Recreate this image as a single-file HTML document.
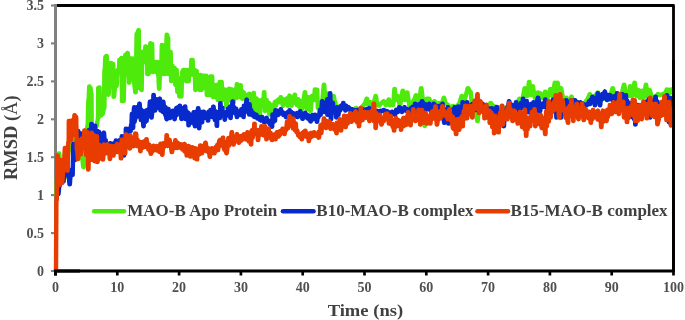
<!DOCTYPE html>
<html><head><meta charset="utf-8"><style>
html,body{margin:0;padding:0;background:#fff;}
svg{display:block;will-change:transform;}
.tk{font-family:"Liberation Serif",serif;font-size:14px;font-weight:bold;fill:#505050;}
.tt{font-family:"Liberation Serif",serif;font-size:17.4px;font-weight:bold;fill:#404040;}
.lg{font-family:"Liberation Serif",serif;font-size:17px;font-weight:bold;fill:#404040;}
</style></head><body>
<svg width="685" height="320" viewBox="0 0 685 320">
<rect width="685" height="320" fill="#fff"/>
<line x1="51" y1="271.0" x2="55.5" y2="271.0" stroke="#808080" stroke-width="2.1"/><text x="43.9" y="275.6" text-anchor="end" class="tk">0</text><line x1="51" y1="233.1" x2="55.5" y2="233.1" stroke="#808080" stroke-width="2.1"/><text x="43.9" y="237.7" text-anchor="end" class="tk">0.5</text><line x1="51" y1="195.1" x2="55.5" y2="195.1" stroke="#808080" stroke-width="2.1"/><text x="43.9" y="199.7" text-anchor="end" class="tk">1</text><line x1="51" y1="157.2" x2="55.5" y2="157.2" stroke="#808080" stroke-width="2.1"/><text x="43.9" y="161.8" text-anchor="end" class="tk">1.5</text><line x1="51" y1="119.3" x2="55.5" y2="119.3" stroke="#808080" stroke-width="2.1"/><text x="43.9" y="123.9" text-anchor="end" class="tk">2</text><line x1="51" y1="81.4" x2="55.5" y2="81.4" stroke="#808080" stroke-width="2.1"/><text x="43.9" y="86.0" text-anchor="end" class="tk">2.5</text><line x1="51" y1="43.4" x2="55.5" y2="43.4" stroke="#808080" stroke-width="2.1"/><text x="43.9" y="48.0" text-anchor="end" class="tk">3</text><line x1="51" y1="5.5" x2="55.5" y2="5.5" stroke="#808080" stroke-width="2.1"/><text x="43.9" y="10.1" text-anchor="end" class="tk">3.5</text><line x1="55.5" y1="271" x2="55.5" y2="275.5" stroke="#000" stroke-width="2.7"/><text x="55.5" y="291.9" text-anchor="middle" class="tk">0</text><line x1="117.3" y1="271" x2="117.3" y2="275.5" stroke="#000" stroke-width="2.7"/><text x="117.3" y="291.9" text-anchor="middle" class="tk">10</text><line x1="179.1" y1="271" x2="179.1" y2="275.5" stroke="#000" stroke-width="2.7"/><text x="179.1" y="291.9" text-anchor="middle" class="tk">20</text><line x1="240.9" y1="271" x2="240.9" y2="275.5" stroke="#000" stroke-width="2.7"/><text x="240.9" y="291.9" text-anchor="middle" class="tk">30</text><line x1="302.7" y1="271" x2="302.7" y2="275.5" stroke="#000" stroke-width="2.7"/><text x="302.7" y="291.9" text-anchor="middle" class="tk">40</text><line x1="364.5" y1="271" x2="364.5" y2="275.5" stroke="#000" stroke-width="2.7"/><text x="364.5" y="291.9" text-anchor="middle" class="tk">50</text><line x1="426.3" y1="271" x2="426.3" y2="275.5" stroke="#000" stroke-width="2.7"/><text x="426.3" y="291.9" text-anchor="middle" class="tk">60</text><line x1="488.1" y1="271" x2="488.1" y2="275.5" stroke="#000" stroke-width="2.7"/><text x="488.1" y="291.9" text-anchor="middle" class="tk">70</text><line x1="549.9" y1="271" x2="549.9" y2="275.5" stroke="#000" stroke-width="2.7"/><text x="549.9" y="291.9" text-anchor="middle" class="tk">80</text><line x1="611.7" y1="271" x2="611.7" y2="275.5" stroke="#000" stroke-width="2.7"/><text x="611.7" y="291.9" text-anchor="middle" class="tk">90</text><line x1="673.5" y1="271" x2="673.5" y2="275.5" stroke="#000" stroke-width="2.7"/><text x="673.5" y="291.9" text-anchor="middle" class="tk">100</text>
<path d="M55.5 5.5 H673.5 V271 H54" fill="none" stroke="#000" stroke-width="2.8" stroke-linejoin="round"/>
<line x1="55.5" y1="4" x2="55.5" y2="270" stroke="#808080" stroke-width="3"/>

<path d="M56.5 195.0 L57.3 170.0 L57.7 170.0 L58.8 153.5 L59.2 153.5 L60.3 165.0 L60.7 165.0 L61.8 170.0 L62.2 170.0 L63.8 165.0 L64.2 165.0 L65.3 177.0 L65.7 177.0 L66.8 160.0 L67.2 160.0 L68.8 150.0 L69.2 150.0 L70.8 145.0 L71.2 145.0 L72.6 138.5 L73.0 138.5 L73.8 150.0 L74.2 150.0 L75.3 160.0 L75.7 160.0 L76.3 155.0 L76.7 155.0 L77.8 148.0 L78.2 148.0 L79.8 145.0 L80.2 145.0 L81.8 158.0 L82.2 158.0 L83.3 167.0 L83.7 167.0 L84.8 150.0 L85.2 150.0 L86.3 140.0 L86.7 140.0 L87.3 126.0 L87.7 126.0 L88.3 100.0 L88.7 100.0 L89.2 86.5 L89.6 86.5 L90.2 88.0 L90.6 88.0 L91.1 94.0 L91.3 124.0 L91.5 94.0 L91.7 124.0 L92.3 126.5 L92.7 126.5 L94.3 127.5 L94.7 127.5 L96.3 126.0 L96.7 126.0 L98.0 118.0 L98.2 88.0 L98.4 118.0 L98.6 88.0 L99.2 87.5 L99.6 95.0 L99.6 87.5 L99.8 111.0 L100.0 95.0 L100.2 111.0 L100.8 115.5 L101.2 115.5 L102.3 114.0 L102.7 114.0 L104.0 108.0 L104.4 70.0 L104.4 108.0 L104.8 70.0 L105.3 57.0 L105.7 57.0 L106.3 56.0 L106.7 56.0 L107.3 64.0 L107.7 64.0 L108.3 94.7 L108.7 94.7 L109.8 75.0 L110.2 75.0 L111.0 63.0 L111.4 63.0 L112.8 64.0 L113.2 64.0 L113.6 96.8 L114.0 96.8 L115.3 84.0 L115.7 84.0 L116.3 86.0 L116.7 86.0 L117.6 70.0 L118.0 70.0 L118.6 70.0 L119.0 70.0 L119.3 60.0 L119.7 60.0 L121.3 58.0 L121.7 58.0 L122.0 101.0 L122.4 101.0 L123.3 101.0 L123.7 101.0 L124.3 76.0 L124.7 76.0 L125.3 55.0 L125.7 55.0 L127.3 53.0 L127.7 53.0 L128.3 60.0 L128.7 60.0 L129.0 82.6 L129.4 82.6 L130.1 58.5 L130.5 58.5 L132.3 58.5 L132.7 58.5 L133.2 78.0 L133.6 78.0 L135.3 92.2 L135.7 92.2 L136.6 34.0 L137.0 34.0 L138.4 30.2 L138.8 30.2 L139.1 88.0 L139.5 88.0 L140.3 60.0 L140.7 60.0 L141.3 90.0 L141.7 90.0 L142.3 52.0 L142.7 52.0 L143.1 51.5 L143.5 51.5 L143.6 62.0 L144.0 62.0 L144.3 62.0 L144.7 62.0 L145.3 46.5 L145.7 46.5 L146.6 47.0 L147.0 47.0 L147.3 74.0 L147.7 74.0 L148.3 74.0 L148.7 74.0 L149.3 56.0 L149.7 56.0 L150.3 43.3 L150.7 43.3 L151.8 44.0 L152.2 44.0 L152.6 72.0 L153.0 72.0 L153.8 62.0 L154.2 62.0 L155.3 62.0 L155.7 62.0 L156.3 72.0 L156.7 72.0 L157.3 62.0 L157.7 62.0 L158.0 75.0 L158.4 75.0 L159.0 88.7 L159.4 88.7 L160.0 70.0 L160.4 70.0 L160.8 74.0 L161.2 74.0 L161.8 45.0 L162.2 45.0 L162.8 74.0 L163.2 74.0 L163.8 50.0 L164.2 50.0 L164.8 74.0 L165.2 74.0 L166.7 34.6 L167.1 34.6 L167.8 38.0 L168.2 38.0 L168.4 74.0 L168.8 74.0 L169.3 52.0 L169.7 52.0 L170.3 52.0 L170.7 52.0 L171.1 81.0 L171.5 81.0 L172.3 66.0 L172.7 66.0 L173.3 80.0 L173.7 80.0 L174.3 68.0 L174.7 68.0 L175.3 85.0 L175.7 85.0 L176.3 70.0 L176.7 70.0 L177.3 92.0 L177.7 92.0 L178.3 78.0 L178.7 78.0 L179.3 96.5 L179.7 96.5 L180.3 83.0 L180.7 83.0 L181.1 96.5 L181.5 96.5 L182.1 72.0 L182.5 72.0 L183.3 70.0 L183.7 70.0 L184.3 80.0 L184.7 80.0 L185.3 70.0 L185.7 70.0 L186.3 81.4 L186.7 81.4 L187.3 70.0 L187.7 70.0 L188.3 81.4 L188.7 81.4 L189.3 72.0 L189.7 72.0 L190.3 75.0 L190.7 75.0 L191.3 60.0 L191.7 60.0 L192.3 60.0 L192.7 60.0 L193.3 75.0 L193.7 75.0 L194.3 70.0 L194.7 70.0 L195.3 90.0 L195.7 90.0 L196.3 71.0 L196.7 71.0 L197.3 85.0 L197.7 85.0 L198.3 75.0 L198.7 75.0 L199.3 90.0 L199.7 90.0 L200.3 75.0 L200.7 75.0 L201.3 90.0 L201.7 90.0 L202.3 77.0 L202.7 77.0 L203.3 75.6 L203.7 75.6 L204.8 88.0 L205.2 88.0 L205.8 75.6 L206.2 75.6 L206.8 95.0 L207.2 95.0 L207.8 83.5 L208.2 83.5 L209.3 95.0 L209.7 95.0 L210.3 76.4 L210.7 76.4 L211.8 76.4 L212.2 76.4 L212.8 97.0 L213.2 97.0 L213.8 85.0 L214.2 85.0 L215.3 97.0 L215.7 97.0 L216.3 85.0 L216.7 85.0 L217.8 100.0 L218.2 100.0 L219.6 81.9 L220.0 81.9 L221.3 81.9 L221.7 81.9 L222.3 100.0 L222.7 100.0 L223.8 89.7 L224.2 89.7 L224.6 89.5 L225.0 89.5 L225.0 93.9 L226.1 100.9 L226.3 107.5 L226.7 107.5 L226.9 94.9 L227.7 101.1 L228.8 93.4 L229.0 88.6 L229.4 88.6 L229.4 100.4 L230.3 93.3 L230.3 100.0 L230.7 100.0 L230.9 98.2 L231.6 89.5 L231.9 92.5 L232.0 89.5 L233.1 97.3 L233.3 102.2 L233.7 102.2 L233.7 90.7 L234.7 94.9 L235.1 95.0 L235.5 88.9 L235.5 95.0 L236.3 98.1 L236.8 84.2 L237.1 88.8 L237.2 84.2 L238.0 93.6 L238.7 87.6 L238.8 97.0 L239.2 97.0 L239.6 94.7 L240.3 90.3 L240.3 85.1 L240.7 85.1 L241.2 94.0 L241.9 90.7 L242.1 98.7 L242.5 98.7 L243.0 95.4 L243.8 92.4 L244.7 98.2 L244.8 97.1 L245.1 98.2 L245.7 96.0 L246.7 97.1 L247.3 95.0 L247.6 95.6 L247.7 95.0 L248.7 98.0 L249.1 93.8 L249.5 93.8 L249.7 95.2 L250.4 97.7 L251.3 95.2 L251.3 100.0 L251.7 100.0 L252.2 103.2 L253.2 99.7 L253.5 93.0 L253.9 93.0 L254.1 107.8 L255.1 100.3 L255.3 114.5 L255.7 114.5 L256.0 107.9 L256.6 98.4 L257.6 108.5 L257.8 100.0 L258.2 100.0 L258.6 104.2 L259.3 109.3 L259.6 114.5 L260.0 114.5 L260.5 102.4 L261.4 105.8 L261.8 100.0 L262.1 99.6 L262.2 100.0 L263.3 104.9 L264.0 92.1 L264.2 97.8 L264.4 92.1 L264.8 111.0 L265.1 103.6 L265.2 111.0 L265.7 99.6 L266.3 100.0 L266.7 100.0 L266.8 106.0 L267.8 105.5 L268.4 102.6 L268.7 109.7 L268.8 102.6 L269.3 114.5 L269.6 103.6 L269.7 114.5 L270.7 110.2 L270.8 105.0 L271.2 105.0 L271.4 106.3 L272.3 111.7 L273.1 106.4 L273.6 105.7 L274.0 105.7 L274.1 104.6 L275.0 101.7 L275.4 105.7 L275.7 104.1 L275.8 105.7 L276.7 101.3 L277.7 102.6 L277.8 100.0 L278.2 100.0 L278.8 99.3 L279.9 102.1 L280.6 99.2 L280.6 97.3 L281.0 97.3 L281.2 102.6 L282.0 99.4 L282.8 105.7 L282.9 103.3 L283.2 105.7 L283.6 99.4 L284.5 104.1 L285.3 101.6 L285.9 99.1 L286.2 103.9 L286.3 99.1 L287.1 98.4 L287.8 105.7 L287.9 102.8 L288.2 105.7 L288.6 98.5 L289.4 95.6 L289.8 102.7 L289.8 95.6 L290.5 99.4 L291.3 105.7 L291.6 103.5 L291.7 105.7 L292.2 97.6 L293.2 103.0 L294.2 98.7 L294.6 94.7 L295.0 94.7 L295.2 102.3 L296.3 98.7 L296.8 105.0 L297.2 105.0 L297.2 102.3 L298.2 99.2 L299.1 106.7 L299.9 100.8 L300.3 100.8 L301.8 109.0 L302.2 109.0 L304.8 92.1 L305.2 92.1 L306.8 109.0 L307.2 109.0 L308.6 97.3 L309.0 97.3 L310.3 111.0 L310.7 111.0 L312.1 95.6 L312.5 95.6 L313.8 100.0 L314.2 100.0 L314.8 89.5 L315.2 89.5 L316.8 89.8 L317.2 89.8 L317.8 108.0 L318.2 108.0 L319.4 102.1 L319.8 102.1 L321.3 108.0 L321.7 108.0 L323.8 84.6 L324.2 84.6 L325.3 100.0 L325.7 100.0 L326.4 93.3 L326.8 93.3 L327.8 108.0 L328.2 108.0 L329.1 101.8 L329.5 101.8 L330.8 104.0 L331.2 104.0 L333.4 96.0 L333.8 96.0 L334.8 101.7 L335.2 101.7 L336.1 108.5 L336.5 108.5 L339.8 106.0 L340.2 106.0 L343.1 104.0 L343.5 104.0 L345.8 108.0 L346.2 108.0 L348.3 107.5 L348.7 107.5 L350.8 110.0 L351.2 110.0 L353.6 111.0 L354.0 111.0 L355.8 108.0 L356.2 108.0 L358.8 112.0 L359.2 112.0 L361.8 107.0 L362.2 107.0 L364.3 104.0 L364.7 104.0 L366.7 98.6 L367.1 98.6 L368.3 105.2 L368.7 105.2 L370.2 102.1 L370.6 102.1 L372.8 105.2 L373.2 105.2 L375.5 96.0 L375.9 96.0 L377.3 105.2 L377.7 105.2 L379.0 105.6 L379.4 105.6 L381.3 103.0 L381.7 103.0 L383.4 101.2 L383.8 101.2 L385.8 105.2 L386.2 105.2 L388.6 99.5 L389.0 99.5 L389.8 105.2 L390.2 105.2 L391.2 103.0 L391.6 103.0 L392.8 105.2 L393.2 105.2 L394.4 88.9 L394.8 88.9 L395.8 100.0 L396.2 100.0 L397.4 96.0 L397.8 96.0 L399.8 105.2 L400.2 105.2 L402.6 90.7 L403.0 90.7 L404.8 100.0 L405.2 100.0 L407.0 92.4 L407.4 92.4 L409.3 105.2 L409.7 105.2 L411.4 103.8 L411.8 103.8 L413.8 100.0 L414.2 100.0 L415.8 95.1 L416.2 95.1 L418.3 105.2 L418.7 105.2 L421.0 88.1 L421.4 88.1 L422.8 100.0 L423.2 100.0 L424.5 126.0 L424.9 126.0 L425.4 99.5 L425.8 99.5 L426.8 98.6 L427.2 98.6 L428.9 98.6 L429.3 98.6 L430.8 104.0 L431.2 104.0 L434.4 101.2 L434.8 101.2 L436.8 105.0 L437.2 105.0 L438.8 103.0 L439.2 103.0 L440.8 106.0 L441.2 106.0 L443.7 97.7 L444.1 97.7 L445.8 104.0 L446.2 104.0 L447.6 104.7 L448.0 104.7 L449.8 108.0 L450.2 108.0 L452.8 106.0 L453.2 106.0 L454.6 121.0 L455.0 121.0 L455.8 107.0 L456.2 107.0 L458.8 104.0 L459.2 104.0 L461.6 96.0 L462.0 96.0 L463.8 102.0 L464.2 102.0 L467.7 88.1 L468.1 88.1 L470.3 92.0 L470.7 92.0 L471.8 104.0 L472.2 104.0 L473.0 103.8 L473.4 103.8 L474.8 110.0 L475.2 110.0 L477.3 121.0 L477.7 121.0 L478.8 108.0 L479.2 108.0 L481.8 106.0 L482.2 106.0 L485.8 108.0 L486.2 108.0 L490.5 103.0 L490.9 103.0 L493.1 106.0 L493.5 106.0 L496.8 108.0 L497.2 108.0 L500.8 107.0 L501.2 107.0 L504.8 108.0 L505.2 108.0 L508.8 106.0 L509.2 106.0 L512.8 106.0 L513.2 106.0 L515.8 104.0 L516.2 104.0 L519.4 98.6 L519.8 98.6 L521.3 104.0 L521.7 104.0 L524.6 88.1 L525.0 88.1 L526.8 96.0 L527.2 96.0 L529.0 81.9 L529.4 81.9 L530.8 95.0 L531.2 95.0 L532.5 86.3 L532.9 86.3 L534.8 98.0 L535.2 98.0 L537.8 92.4 L538.2 92.4 L539.8 93.3 L540.2 93.3 L541.8 98.0 L542.2 98.0 L545.1 91.6 L545.5 91.6 L547.3 98.0 L547.7 98.0 L550.3 88.9 L550.7 88.9 L552.3 96.0 L552.7 96.0 L554.7 82.8 L555.1 82.8 L555.8 92.0 L556.2 92.0 L557.3 82.8 L557.7 82.8 L559.3 95.0 L559.7 95.0 L560.8 88.1 L561.2 88.1 L563.3 100.0 L563.7 100.0 L566.1 97.7 L566.5 97.7 L568.8 103.0 L569.2 103.0 L571.3 96.8 L571.7 96.8 L573.8 103.0 L574.2 103.0 L576.6 102.0 L577.0 102.0 L579.8 104.0 L580.2 104.0 L583.8 104.0 L584.2 104.0 L586.8 100.0 L587.2 100.0 L589.7 94.2 L590.1 94.2 L591.8 102.0 L592.2 102.0 L594.8 96.0 L595.2 96.0 L597.6 92.4 L598.0 92.4 L599.8 100.0 L600.2 100.0 L603.8 98.0 L604.2 98.0 L607.8 100.0 L608.2 100.0 L609.8 96.0 L610.2 96.0 L612.5 88.1 L612.9 88.1 L614.8 96.0 L615.2 96.0 L616.9 94.0 L617.3 94.0 L619.8 99.0 L620.2 99.0 L621.8 92.0 L622.2 92.0 L623.9 84.6 L624.3 84.6 L625.8 94.0 L626.2 94.0 L627.4 92.0 L627.8 92.0 L628.8 96.0 L629.2 96.0 L630.0 86.3 L630.4 86.3 L631.8 96.0 L632.2 96.0 L634.4 82.8 L634.8 82.8 L636.3 96.0 L636.7 96.0 L637.9 90.0 L638.3 90.0 L639.8 98.0 L640.2 98.0 L641.4 90.7 L641.8 90.7 L643.3 98.0 L643.7 98.0 L645.8 84.6 L646.2 84.6 L647.3 96.0 L647.7 96.0 L649.3 90.0 L649.7 90.0 L651.8 97.0 L652.2 97.0 L655.4 96.8 L655.8 96.8 L657.8 94.0 L658.2 94.0 L659.8 95.0 L660.2 95.0 L662.8 94.0 L663.2 94.0 L664.8 93.0 L665.2 93.0 L666.8 89.4 L667.2 89.4 L668.8 94.0 L669.2 94.0 L670.8 89.4 L671.2 89.4 L672.5 92.0" fill="none" stroke="#4eea0c" stroke-width="4.4" stroke-linejoin="round" stroke-linecap="round"/>
<path d="M58.5 194.0 L59.3 186.0 L59.7 186.0 L60.8 175.0 L61.2 175.0 L62.3 170.7 L62.7 170.7 L63.3 181.5 L63.7 181.5 L64.3 160.0 L64.7 160.0 L65.8 175.0 L66.2 175.0 L67.3 165.0 L67.7 165.0 L69.5 184.3 L69.9 184.3 L70.8 170.0 L71.2 170.0 L72.3 175.0 L72.7 175.0 L73.3 144.0 L73.7 144.0 L74.3 160.0 L74.7 160.0 L75.8 150.0 L76.2 150.0 L77.9 131.0 L78.3 131.0 L79.3 140.0 L79.7 140.0 L80.8 133.4 L81.2 133.4 L82.8 140.0 L83.2 140.0 L84.8 135.0 L85.2 135.0 L86.8 138.0 L87.2 138.0 L88.8 130.0 L89.2 130.0 L90.0 129.7 L91.1 130.9 L91.3 124.0 L91.7 124.0 L91.8 126.3 L92.8 130.0 L92.8 127.9 L93.2 130.0 L93.6 126.0 L94.6 129.5 L94.8 125.8 L95.2 125.8 L95.3 129.5 L96.2 134.9 L97.2 131.0 L97.3 131.6 L97.6 131.0 L98.2 135.8 L98.3 140.0 L98.7 140.0 L99.0 131.8 L99.7 138.8 L100.1 134.0 L100.5 135.1 L100.5 134.0 L101.3 143.0 L101.6 139.8 L101.7 143.0 L102.5 135.7 L103.2 143.8 L103.6 132.8 L103.9 139.0 L104.0 132.8 L105.0 145.0 L105.3 143.0 L105.7 143.0 L105.8 140.3 L106.2 152.0 L106.6 152.0 L106.8 145.2 L107.8 145.0 L107.9 144.3 L108.2 145.0 L109.0 149.2 L110.0 143.3 L110.2 145.7 L110.4 143.3 L110.9 147.0 L111.3 149.0 L111.7 149.0 L111.9 144.6 L112.8 146.4 L113.2 145.0 L113.6 145.0 L113.9 143.1 L115.0 145.4 L115.8 140.4 L116.1 142.6 L116.2 140.4 L117.0 144.1 L117.8 146.0 L118.1 141.2 L118.2 146.0 L119.0 143.5 L119.8 140.0 L120.5 145.3 L121.3 144.2 L121.7 136.3 L122.1 136.3 L122.1 147.8 L123.1 137.2 L123.8 155.5 L124.0 146.2 L124.2 155.5 L125.0 136.2 L125.7 146.9 L125.8 128.7 L126.2 128.7 L126.9 137.9 L127.5 138.6 L128.3 135.0 L128.6 128.8 L128.7 135.0 L129.3 131.3 L129.9 128.3 L130.7 131.0 L131.1 124.6 L131.5 124.6 L131.8 114.0 L132.7 121.7 L132.8 128.0 L133.2 128.0 L133.5 113.2 L134.1 107.1 L134.5 107.1 L134.6 121.9 L135.3 118.0 L135.6 112.5 L135.7 118.0 L136.5 116.3 L136.7 108.0 L137.1 108.0 L137.4 107.0 L137.8 115.0 L138.2 115.0 L138.6 116.3 L139.3 103.6 L139.6 107.3 L139.7 103.6 L140.4 115.8 L140.8 120.0 L141.1 109.4 L141.2 120.0 L142.0 110.6 L142.1 119.5 L142.4 110.6 L142.8 116.2 L143.3 126.2 L143.5 122.8 L143.7 126.2 L144.3 116.3 L144.8 115.0 L145.2 115.0 L145.3 122.0 L146.1 110.5 L146.3 121.0 L146.7 121.0 L147.0 115.2 L147.8 110.0 L148.0 109.4 L148.2 110.0 L149.1 113.5 L149.8 101.8 L150.1 106.5 L150.2 101.8 L150.8 110.0 L151.3 117.5 L151.6 101.2 L151.7 117.5 L152.5 109.1 L153.2 103.2 L153.4 95.0 L153.8 95.0 L154.0 110.6 L154.7 103.7 L154.8 110.5 L155.2 110.5 L155.5 105.6 L156.0 99.5 L156.4 99.3 L156.4 99.5 L157.3 107.7 L157.7 103.6 L158.0 101.7 L158.1 103.6 L158.7 107.2 L159.5 98.6 L159.7 102.5 L159.9 98.6 L160.4 110.5 L160.8 110.5 L160.8 105.4 L161.8 103.0 L162.0 102.1 L162.2 103.0 L162.9 112.1 L163.0 101.8 L163.4 101.8 L163.8 105.6 L163.8 107.8 L164.2 105.6 L164.9 112.8 L165.3 115.0 L165.6 107.1 L165.7 115.0 L166.5 119.2 L166.5 115.7 L166.9 119.2 L167.2 110.7 L167.9 115.5 L168.2 109.0 L168.6 109.0 L168.6 111.8 L169.4 116.4 L169.8 118.0 L170.1 112.3 L170.2 118.0 L171.0 115.6 L172.0 112.8 L172.6 110.6 L173.0 110.6 L173.1 115.5 L174.1 111.1 L174.4 119.2 L174.8 119.2 L175.0 114.9 L175.7 110.4 L176.3 108.0 L176.6 115.4 L176.7 108.0 L177.3 110.6 L177.9 107.1 L178.1 112.2 L178.3 107.1 L179.2 110.2 L179.6 105.6 L180.0 105.6 L180.0 113.5 L180.9 108.6 L181.3 119.0 L181.7 119.0 L181.9 115.8 L182.6 110.8 L183.1 108.0 L183.5 108.0 L183.6 116.2 L184.5 110.6 L184.9 106.5 L185.3 106.5 L185.4 119.1 L186.3 115.0 L186.4 110.9 L186.7 115.0 L187.1 119.5 L188.3 112.7 L188.4 125.3 L188.8 125.3 L189.3 114.3 L189.3 122.1 L189.7 114.3 L190.3 117.3 L191.1 120.3 L191.3 120.0 L191.7 120.0 L192.0 115.1 L192.7 123.0 L193.6 112.3 L193.8 116.4 L194.0 112.3 L194.8 126.2 L194.9 120.1 L195.2 126.2 L195.6 114.8 L196.3 111.8 L196.6 120.0 L196.7 111.8 L197.5 113.8 L198.0 108.2 L198.4 119.7 L198.4 108.2 L198.9 128.2 L199.2 114.4 L199.3 128.2 L200.0 119.2 L200.3 111.8 L200.7 111.8 L201.1 116.2 L202.2 122.4 L202.9 113.6 L203.6 111.8 L203.7 116.5 L204.0 111.8 L204.7 115.0 L205.7 117.2 L205.8 118.0 L206.2 118.0 L206.3 114.3 L207.5 117.9 L207.9 120.6 L208.3 120.6 L208.4 111.8 L209.0 115.7 L210.2 111.8 L210.3 110.0 L210.7 110.0 L210.9 116.7 L211.7 110.7 L212.7 117.1 L213.2 106.7 L213.6 111.2 L213.6 106.7 L214.5 117.9 L214.8 120.0 L215.2 120.0 L215.5 111.3 L216.4 119.0 L216.7 125.9 L217.1 125.9 L217.2 113.1 L218.1 117.7 L218.3 112.0 L218.7 112.0 L218.9 112.8 L220.0 118.0 L220.2 103.2 L220.6 103.2 L220.7 108.3 L221.3 113.6 L222.3 115.0 L222.4 107.8 L222.7 115.0 L223.3 114.6 L224.2 112.2 L224.6 119.7 L225.0 119.7 L225.3 115.6 L226.2 113.0 L226.3 112.0 L226.7 112.0 L227.0 115.5 L228.0 112.0 L228.1 108.4 L228.5 108.4 L229.1 115.0 L230.1 106.5 L230.3 118.0 L230.7 118.0 L231.1 111.3 L232.0 105.3 L232.5 101.4 L232.9 101.4 L232.9 112.1 L234.0 107.0 L234.8 112.0 L235.1 113.6 L235.2 112.0 L236.2 108.7 L236.8 117.1 L237.2 113.7 L237.2 117.1 L238.3 111.3 L238.8 112.0 L239.2 112.0 L239.4 114.3 L240.1 112.0 L241.0 115.1 L241.2 109.3 L241.6 109.3 L242.1 110.9 L243.1 112.9 L243.3 117.0 L243.7 117.0 L243.8 105.7 L244.7 112.6 L245.9 104.1 L246.5 99.7 L246.5 110.7 L246.9 99.7 L247.6 105.1 L247.8 110.0 L248.2 110.0 L248.6 109.8 L249.1 114.5 L249.5 114.5 L249.6 104.2 L250.4 111.7 L250.8 110.0 L251.0 111.4 L251.2 110.0 L252.1 115.2 L252.6 112.8 L253.0 112.8 L253.1 112.6 L254.0 114.5 L254.3 117.0 L254.7 117.0 L255.0 114.3 L255.7 117.0 L256.1 114.6 L256.5 114.6 L256.6 116.1 L257.3 118.5 L257.8 118.0 L258.2 118.0 L258.3 116.7 L259.1 118.0 L259.6 119.7 L259.9 117.1 L260.0 119.7 L261.0 120.5 L261.8 117.0 L262.0 118.6 L262.2 117.0 L262.9 120.1 L263.6 119.0 L264.0 122.3 L264.4 122.3 L264.4 120.4 L265.5 119.5 L266.3 118.0 L266.3 120.6 L266.7 118.0 L267.0 119.4 L267.8 121.9 L268.4 120.7 L268.8 120.7 L268.9 121.1 L269.9 124.4 L270.3 123.2 L270.6 120.6 L270.7 123.2 L271.4 123.3 L271.8 126.7 L272.2 126.7 L272.5 114.4 L273.6 121.9 L273.8 115.0 L274.2 115.0 L274.4 115.1 L275.1 120.7 L275.4 110.2 L275.8 110.2 L275.8 113.7 L276.6 114.1 L277.8 111.1 L277.8 115.0 L278.2 115.0 L278.7 112.7 L279.5 110.7 L280.3 113.6 L280.6 109.3 L281.0 109.3 L281.3 111.2 L282.1 113.7 L282.9 112.2 L283.3 115.0 L283.7 115.0 L283.8 114.8 L284.9 113.3 L285.9 117.1 L286.0 114.6 L286.3 117.1 L286.9 112.7 L287.8 112.0 L288.1 114.6 L288.2 112.0 L289.1 112.8 L289.4 110.2 L289.8 110.2 L290.2 113.9 L291.4 111.9 L291.8 116.0 L292.2 116.0 L292.4 114.0 L293.2 113.0 L293.9 115.2 L294.6 114.6 L294.7 115.4 L295.0 114.6 L295.8 116.3 L297.0 113.1 L297.3 117.0 L297.6 115.4 L297.7 117.0 L298.5 113.6 L299.6 116.0 L299.9 111.1 L300.3 111.1 L300.4 113.8 L301.2 115.9 L302.0 113.4 L302.3 118.8 L302.7 118.8 L303.0 117.0 L303.8 115.3 L304.5 117.3 L305.1 112.8 L305.2 114.5 L305.5 112.8 L306.1 117.2 L306.9 114.8 L307.7 118.5 L307.8 117.0 L308.2 117.0 L308.5 115.5 L309.5 119.9 L310.2 117.4 L310.4 121.5 L310.8 121.5 L311.1 118.9 L311.8 116.8 L312.3 115.0 L312.7 115.0 L312.9 119.4 L313.9 116.7 L314.8 118.8 L314.8 114.6 L315.2 114.6 L315.6 116.9 L316.6 119.8 L316.8 121.8 L317.2 121.8 L317.7 117.0 L318.6 117.1 L318.8 115.0 L319.2 115.0 L319.8 109.9 L320.3 114.8 L320.7 114.8 L320.8 113.2 L321.7 106.2 L322.1 101.2 L322.4 111.7 L322.5 101.2 L323.5 104.4 L323.8 112.0 L324.2 112.0 L324.7 110.1 L325.6 105.0 L325.8 106.9 L326.0 105.0 L326.6 108.6 L327.2 99.1 L327.3 114.8 L327.7 114.8 L328.0 112.8 L328.7 102.9 L329.4 108.9 L329.9 93.3 L330.3 93.3 L330.4 99.9 L330.8 119.2 L331.2 119.2 L331.5 112.5 L332.4 102.4 L332.6 103.0 L333.0 103.0 L333.1 112.3 L333.8 107.5 L334.3 112.0 L334.7 112.0 L334.9 112.1 L335.8 108.8 L336.1 117.5 L336.5 117.5 L336.9 107.3 L336.9 114.9 L337.3 107.3 L337.8 109.9 L338.5 114.9 L339.2 108.6 L339.8 110.5 L340.0 108.7 L340.2 110.5 L341.0 106.0 L342.1 107.8 L343.0 106.1 L343.1 103.0 L343.5 103.0 L343.7 108.7 L344.8 105.6 L345.3 110.5 L345.5 108.3 L345.7 110.5 L346.3 105.8 L347.2 109.2 L348.2 108.5 L348.3 107.3 L348.7 107.3 L349.2 109.5 L349.9 108.5 L350.8 110.5 L351.1 109.7 L351.2 110.5 L352.1 109.1 L353.1 110.3 L353.6 110.0 L354.0 110.0 L354.0 110.1 L354.8 110.3 L355.7 110.2 L356.8 110.3 L357.7 109.9 L357.8 110.5 L358.2 110.5 L358.7 110.1 L359.8 109.6 L360.4 110.1 L361.1 109.6 L362.1 109.9 L362.3 109.1 L362.7 109.1 L363.2 109.7 L364.3 110.1 L365.1 109.5 L365.8 110.5 L366.2 109.8 L366.2 110.5 L367.0 109.1 L367.9 109.8 L368.7 109.0 L369.3 108.2 L369.6 109.5 L369.7 108.2 L370.3 109.0 L371.1 109.6 L371.8 108.9 L372.8 110.1 L372.8 110.5 L373.2 110.5 L373.7 109.7 L374.4 110.5 L375.4 110.6 L376.3 111.4 L376.3 110.8 L376.7 110.8 L377.1 111.0 L377.9 111.7 L378.8 111.1 L379.6 111.5 L379.8 112.0 L380.2 112.0 L380.4 110.7 L381.4 111.2 L382.2 110.7 L383.1 111.2 L383.4 110.0 L383.8 110.0 L384.1 110.7 L384.9 111.8 L385.7 110.7 L386.8 112.3 L387.6 111.4 L387.8 113.0 L388.2 113.0 L388.3 112.4 L389.2 112.2 L390.0 112.5 L390.6 112.3 L391.3 113.4 L392.1 111.8 L392.3 112.7 L392.5 111.8 L393.0 113.8 L394.1 112.8 L394.8 114.8 L395.0 113.6 L395.2 114.8 L396.1 109.8 L396.9 111.8 L397.4 112.0 L397.8 112.0 L398.0 109.3 L399.0 111.1 L399.1 107.3 L399.5 107.3 L400.0 109.3 L400.9 110.8 L401.7 108.5 L401.8 112.0 L402.2 112.0 L402.6 110.9 L403.6 108.8 L404.4 107.3 L404.5 110.1 L404.8 107.3 L405.3 108.9 L406.2 110.8 L406.9 108.9 L407.8 112.0 L408.0 111.0 L408.2 112.0 L409.1 110.4 L409.8 110.7 L410.6 108.6 L410.8 112.0 L411.2 112.0 L411.3 109.9 L412.2 107.0 L413.2 109.1 L414.2 106.0 L414.8 108.2 L414.9 103.8 L415.3 103.8 L415.5 106.0 L416.3 109.4 L417.3 106.8 L418.3 112.0 L418.4 110.0 L418.7 112.0 L419.4 104.0 L420.4 108.8 L421.1 104.4 L421.9 101.2 L422.1 108.2 L422.3 101.2 L423.2 104.3 L424.0 107.4 L424.8 111.3 L425.0 103.9 L425.2 111.3 L426.0 109.2 L427.2 106.5 L428.2 108.4 L428.9 103.8 L429.1 107.0 L429.3 103.8 L429.8 109.2 L430.8 111.3 L430.9 105.6 L431.2 111.3 L431.8 108.2 L432.9 106.8 L433.5 108.9 L433.6 103.8 L434.0 103.8 L434.5 106.1 L435.3 110.0 L435.3 108.5 L435.7 110.0 L436.1 105.6 L437.0 108.9 L437.8 111.3 L438.1 108.1 L438.2 111.3 L438.9 108.8 L439.5 105.8 L440.6 110.1 L441.4 111.1 L442.1 116.0 L442.3 103.8 L442.7 103.8 L442.8 108.7 L443.5 118.1 L444.1 122.7 L444.4 109.6 L444.5 122.7 L445.2 115.8 L445.8 110.0 L445.8 112.6 L446.2 110.0 L446.7 118.7 L447.6 107.3 L447.9 111.3 L448.0 107.3 L448.3 123.6 L448.7 123.6 L448.7 118.6 L449.5 114.0 L450.5 118.4 L450.8 110.0 L451.2 110.0 L451.4 112.6 L452.5 114.1 L453.5 109.1 L454.4 113.7 L454.6 107.3 L455.0 107.3 L455.2 109.2 L456.3 112.0 L456.3 115.7 L456.7 115.7 L457.2 109.7 L458.0 113.0 L458.1 106.5 L458.5 106.5 L458.9 109.5 L459.7 112.4 L459.8 115.7 L460.2 115.7 L460.7 107.7 L461.8 111.1 L462.4 106.0 L462.5 102.1 L462.9 102.1 L463.5 108.7 L464.4 104.7 L464.8 110.0 L465.2 110.0 L465.4 107.9 L466.4 104.4 L466.8 102.1 L467.2 102.1 L467.5 107.5 L468.5 104.7 L469.3 110.0 L469.4 107.5 L469.7 110.0 L470.6 106.3 L471.4 108.1 L472.1 104.0 L472.5 104.0 L472.5 106.1 L473.5 107.6 L474.2 106.1 L475.2 108.2 L475.8 110.0 L476.2 110.0 L476.3 107.6 L477.2 108.5 L478.2 106.8 L479.0 107.7 L479.3 106.0 L479.7 106.0 L479.9 105.2 L480.9 106.4 L481.7 104.9 L482.6 104.0 L482.9 107.0 L483.0 104.0 L483.7 106.4 L484.7 108.2 L485.6 106.3 L486.3 110.0 L486.7 110.0 L486.7 108.4 L487.7 108.0 L487.8 108.0 L488.2 108.0 L488.4 109.4 L489.1 108.8 L489.9 110.1 L490.9 109.4 L491.3 108.2 L491.7 108.2 L492.0 112.3 L492.7 110.1 L493.5 111.5 L493.8 114.0 L494.2 114.0 L494.4 108.8 L495.0 112.4 L495.9 109.6 L496.6 112.0 L496.6 107.0 L497.0 107.0 L497.5 110.5 L498.6 114.6 L499.6 112.2 L499.8 115.0 L500.2 115.0 L500.4 119.2 L501.1 114.9 L502.2 121.8 L503.2 114.2 L503.6 126.2 L504.0 120.0 L504.0 126.2 L504.9 110.3 L505.3 110.0 L505.7 110.0 L506.0 116.2 L506.7 108.0 L507.8 109.9 L508.5 104.1 L508.9 101.2 L509.3 107.5 L509.3 101.2 L510.2 104.9 L511.0 109.0 L511.8 104.6 L512.3 112.2 L512.6 109.9 L512.7 112.2 L513.6 106.3 L514.7 108.9 L515.7 104.6 L515.9 102.1 L516.3 102.1 L516.5 108.2 L517.1 104.7 L518.2 109.7 L518.9 105.3 L519.3 112.2 L519.7 112.2 L520.0 109.5 L521.1 102.7 L522.0 108.1 L522.7 104.0 L522.9 98.6 L523.3 98.6 L523.4 104.9 L524.5 101.8 L524.8 108.0 L525.2 108.0 L525.7 109.1 L526.4 104.2 L526.4 101.0 L526.8 101.0 L527.1 108.1 L528.0 105.5 L528.3 112.2 L528.7 112.2 L528.8 109.8 L529.9 105.7 L530.7 109.9 L530.8 104.0 L531.2 104.0 L531.7 105.5 L532.3 110.0 L532.4 108.9 L532.7 110.0 L533.2 106.2 L533.4 102.1 L533.8 102.1 L533.9 109.6 L534.9 103.6 L535.3 112.0 L535.7 112.0 L536.0 107.0 L537.1 101.3 L537.8 97.7 L538.2 108.8 L538.2 97.7 L538.9 101.0 L539.8 111.3 L539.9 107.0 L540.2 111.3 L541.1 104.3 L542.1 103.8 L542.2 107.4 L542.5 103.8 L543.0 104.0 L544.0 106.3 L545.0 102.2 L545.1 99.5 L545.5 99.5 L545.6 107.3 L546.6 104.1 L547.3 111.3 L547.7 108.4 L547.7 111.3 L548.7 105.6 L549.7 107.8 L550.3 103.0 L550.5 102.3 L550.7 103.0 L551.4 104.9 L552.1 103.4 L552.9 99.5 L553.3 111.4 L553.3 99.5 L554.3 104.1 L555.1 111.6 L556.2 105.9 L556.3 117.5 L556.7 117.5 L556.9 112.2 L557.9 110.3 L558.6 114.2 L558.8 106.0 L559.2 106.0 L559.3 109.0 L560.2 114.0 L560.8 117.5 L561.1 108.3 L561.2 117.5 L561.9 111.2 L562.9 105.6 L563.3 103.0 L563.7 110.5 L563.7 103.0 L564.6 103.3 L565.6 105.3 L566.1 100.3 L566.5 102.4 L566.5 100.3 L567.3 104.5 L568.2 102.6 L568.8 106.0 L568.8 103.8 L569.2 106.0 L569.9 101.8 L570.9 104.1 L571.3 100.3 L571.7 100.3 L571.9 102.2 L572.7 104.2 L573.3 106.0 L573.4 102.1 L573.7 106.0 L574.3 104.6 L574.8 100.3 L575.0 101.9 L575.2 100.3 L575.9 104.1 L576.9 101.8 L577.3 106.0 L577.7 106.0 L577.8 104.4 L578.6 103.0 L579.7 104.5 L580.1 102.1 L580.5 102.1 L580.8 103.1 L581.5 105.1 L582.3 103.3 L583.0 104.8 L583.3 106.0 L583.7 106.0 L584.0 104.1 L584.7 105.5 L585.7 104.9 L586.5 105.5 L587.1 104.7 L587.3 103.9 L587.5 104.7 L588.1 104.3 L589.0 101.3 L589.8 102.4 L589.8 104.0 L590.2 104.0 L590.7 99.8 L591.7 101.2 L592.3 96.8 L592.5 100.0 L592.7 96.8 L593.2 102.4 L594.2 99.5 L594.8 105.2 L595.0 102.5 L595.2 105.2 L595.6 98.2 L596.7 101.6 L597.4 98.0 L597.6 93.3 L598.0 93.3 L598.3 101.6 L599.3 96.4 L599.8 105.2 L600.0 100.7 L600.2 105.2 L601.0 97.7 L601.9 99.6 L602.3 94.0 L602.7 94.0 L603.0 95.6 L604.1 97.9 L604.6 91.6 L604.8 94.8 L605.0 91.6 L605.5 97.3 L606.5 94.6 L606.8 100.0 L607.2 100.0 L607.3 96.9 L607.9 94.9 L609.0 98.4 L609.8 95.1 L609.8 97.4 L610.2 95.1 L610.9 99.4 L612.0 97.9 L612.9 99.4 L613.3 102.0 L613.7 102.0 L613.8 96.3 L614.6 99.7 L615.2 96.4 L616.1 98.6 L616.7 96.5 L616.9 93.3 L617.3 93.3 L617.5 100.3 L618.3 97.4 L619.2 100.1 L619.8 103.0 L620.0 95.7 L620.2 103.0 L620.8 102.2 L621.7 99.9 L622.1 94.2 L622.5 94.2 L622.8 106.4 L623.6 99.1 L623.8 110.0 L624.2 110.0 L624.3 107.5 L625.3 100.6 L625.6 95.1 L626.0 95.1 L626.3 110.3 L627.3 116.0 L627.3 100.7 L627.7 116.0 L628.4 109.8 L629.1 103.0 L629.5 109.5 L629.5 103.0 L630.4 116.6 L631.2 110.9 L631.3 117.0 L631.7 117.0 L632.2 116.2 L633.1 115.2 L634.2 119.4 L635.2 110.0 L635.2 124.5 L635.6 124.5 L635.8 119.3 L636.8 110.0 L636.8 112.6 L637.2 110.0 L637.9 116.8 L637.9 105.0 L638.3 105.0 L638.5 109.0 L639.3 112.5 L640.2 108.0 L640.8 112.0 L641.2 112.0 L641.3 110.5 L642.3 107.8 L643.3 109.5 L644.1 106.0 L644.8 106.0 L645.2 106.7 L645.2 106.0 L646.1 101.7 L646.9 108.5 L647.6 104.2 L648.4 99.5 L648.6 110.9 L648.8 99.5 L649.4 106.5 L650.0 109.9 L650.1 117.5 L650.5 117.5 L650.9 105.7 L651.7 110.6 L651.8 104.0 L652.2 104.0 L652.8 102.2 L653.5 107.6 L654.3 99.6 L655.2 106.7 L655.4 96.8 L655.8 96.8 L655.9 100.6 L656.6 105.1 L657.5 101.5 L657.8 110.0 L658.2 110.0 L658.3 105.2 L659.5 105.2 L659.8 104.0 L660.1 109.8 L660.2 104.0 L660.8 106.5 L661.8 109.3 L662.6 105.8 L662.8 112.0 L663.2 112.0 L663.6 105.9 L664.4 101.0 L665.1 106.5 L666.1 102.4 L666.8 95.2 L667.1 115.6 L667.2 95.2 L668.0 104.4 L668.8 122.2 L668.8 115.5 L669.2 122.2 L669.6 103.1 L670.6 114.8 L670.8 98.0 L671.2 98.0 L671.3 104.9 L672.5 110.0" fill="none" stroke="#0829cc" stroke-width="4.4" stroke-linejoin="round" stroke-linecap="round"/>
<path d="M56.0 271.0 L56.4 200.0 L56.8 200.0 L57.3 155.5 L57.7 155.5 L59.3 185.0 L59.7 185.0 L60.3 160.0 L60.7 160.0 L61.8 183.0 L62.2 183.0 L63.3 170.0 L63.7 170.0 L64.8 148.0 L65.2 148.0 L66.3 147.8 L66.7 147.8 L67.3 170.7 L67.7 170.7 L68.3 142.0 L68.7 142.0 L68.8 121.0 L69.2 121.0 L69.8 121.0 L70.2 121.0 L70.8 140.0 L71.2 140.0 L71.8 120.5 L72.2 120.5 L72.8 135.0 L73.2 135.0 L74.4 115.3 L74.8 115.3 L75.8 117.0 L76.2 117.0 L76.8 150.0 L77.2 150.0 L77.8 159.0 L78.2 159.0 L79.3 140.0 L79.7 140.0 L80.0 144.3 L80.5 154.4 L80.9 154.4 L80.9 153.1 L81.8 139.0 L81.9 138.4 L82.2 139.0 L82.5 148.6 L83.3 145.0 L83.6 136.7 L83.7 145.0 L84.3 130.4 L84.4 141.9 L84.7 130.4 L85.3 144.9 L85.8 150.0 L86.2 155.1 L86.2 150.0 L86.7 131.6 L86.9 143.4 L87.1 131.6 L88.0 157.2 L88.1 169.5 L88.5 169.5 L89.0 145.2 L89.3 145.0 L89.7 155.1 L89.7 145.0 L90.6 142.7 L91.3 152.7 L91.3 132.8 L91.7 132.8 L92.1 143.1 L92.3 160.0 L92.7 160.0 L93.2 151.1 L93.7 135.1 L94.1 135.1 L94.4 141.3 L94.8 161.4 L95.2 161.4 L95.4 154.3 L96.6 146.8 L96.6 136.3 L97.0 136.3 L97.3 155.8 L97.3 162.0 L97.7 162.0 L98.0 147.2 L98.9 153.4 L99.2 157.9 L99.6 157.9 L99.7 145.0 L100.3 150.0 L100.5 158.5 L100.7 150.0 L101.4 149.6 L102.6 153.9 L102.7 159.6 L103.1 159.6 L103.7 150.1 L103.8 144.5 L104.2 144.5 L104.9 153.9 L105.6 150.1 L106.2 153.2 L106.6 153.2 L106.7 151.8 L107.3 144.5 L107.7 149.4 L107.7 144.5 L108.4 152.9 L109.3 148.3 L109.7 159.0 L110.0 152.9 L110.1 159.0 L111.2 148.9 L111.3 146.0 L111.7 146.0 L112.2 154.5 L113.0 149.4 L113.2 155.5 L113.6 155.5 L114.0 151.4 L114.6 147.8 L114.8 146.0 L115.2 146.0 L115.3 151.0 L116.1 148.3 L116.7 152.0 L117.0 143.9 L117.1 152.0 L117.3 151.7 L117.4 143.9 L118.4 148.1 L118.8 150.0 L119.1 152.3 L119.2 150.0 L119.8 145.1 L120.6 152.3 L120.8 158.4 L121.2 158.4 L121.3 144.5 L121.7 139.8 L122.1 139.8 L122.4 153.3 L123.3 150.0 L123.6 144.0 L123.7 150.0 L124.4 147.3 L124.9 153.2 L125.3 153.2 L125.3 140.9 L125.8 134.5 L126.2 134.5 L126.3 146.9 L127.2 142.0 L127.8 145.0 L128.1 145.3 L128.2 145.0 L129.2 139.2 L129.6 148.5 L129.9 135.1 L129.9 143.2 L130.0 148.5 L130.3 135.1 L130.9 140.0 L131.5 144.6 L131.8 145.0 L132.2 145.0 L132.4 137.5 L133.1 146.2 L133.4 141.8 L133.5 146.2 L134.1 137.8 L134.9 141.7 L135.2 133.4 L135.6 133.4 L135.8 138.5 L135.8 133.8 L136.2 133.8 L136.8 146.1 L137.5 139.6 L137.8 146.0 L138.2 146.0 L138.6 146.2 L139.5 141.6 L140.2 151.2 L140.3 148.3 L140.6 151.2 L141.1 144.6 L142.0 148.4 L142.3 142.0 L142.7 142.0 L142.9 145.3 L143.5 146.2 L144.3 147.0 L144.5 141.3 L144.7 147.0 L145.3 144.8 L146.1 142.0 L146.3 139.1 L146.7 139.1 L146.9 147.2 L147.6 143.1 L148.3 149.5 L148.4 148.0 L148.7 149.5 L149.3 144.7 L150.0 150.1 L150.7 153.8 L151.0 148.8 L151.1 153.8 L151.9 151.5 L152.5 148.3 L153.3 150.6 L153.4 145.6 L153.8 145.6 L154.4 147.4 L155.1 148.2 L155.3 147.7 L155.7 147.7 L156.1 147.7 L156.9 146.1 L156.9 150.5 L157.3 146.1 L157.7 147.3 L158.5 149.9 L159.3 152.0 L159.4 147.5 L159.7 152.0 L160.2 150.4 L160.4 143.8 L160.8 143.8 L160.9 146.7 L162.1 149.8 L162.1 154.7 L162.5 154.7 L163.2 143.2 L164.3 145.0 L164.4 146.9 L164.7 145.0 L165.1 142.5 L166.2 145.3 L166.5 135.1 L166.9 135.1 L167.1 138.6 L167.4 146.0 L167.8 146.0 L167.9 143.5 L168.6 140.5 L169.3 140.0 L169.4 145.6 L169.7 140.0 L170.0 144.6 L171.0 147.0 L171.7 152.1 L172.1 152.1 L172.1 144.6 L173.1 149.2 L173.3 145.0 L173.7 145.0 L174.1 143.5 L174.9 147.8 L175.2 140.3 L175.6 140.3 L175.8 142.9 L177.0 145.5 L177.3 148.0 L177.7 148.0 L177.8 142.6 L178.9 146.3 L179.9 145.9 L180.5 144.3 L180.7 147.9 L180.9 144.3 L181.7 145.4 L182.3 149.5 L182.7 149.5 L182.8 147.8 L183.9 148.3 L184.3 144.0 L184.5 151.5 L184.7 144.0 L185.6 146.6 L186.4 152.3 L186.6 155.6 L187.0 155.6 L187.3 147.7 L188.2 152.4 L188.3 146.0 L188.7 146.0 L188.8 148.4 L189.5 153.7 L190.1 156.5 L190.2 150.2 L190.5 156.5 L191.3 153.9 L191.9 147.3 L192.2 150.5 L192.3 147.3 L193.0 154.6 L193.9 151.2 L194.5 158.2 L194.8 156.4 L194.8 148.1 L194.9 158.2 L195.2 148.1 L195.6 150.9 L196.5 155.3 L196.8 159.4 L197.2 159.4 L197.3 148.9 L198.1 155.4 L199.0 150.8 L199.8 154.2 L200.1 145.4 L200.5 145.4 L200.8 148.5 L201.6 150.8 L201.8 153.2 L202.2 153.2 L202.7 145.9 L203.7 150.0 L204.4 146.2 L205.3 142.8 L205.4 150.7 L205.7 142.8 L206.3 146.6 L207.3 151.5 L207.4 150.9 L207.7 151.5 L208.2 148.2 L209.3 153.9 L209.7 156.7 L210.1 156.7 L210.2 150.1 L211.2 153.5 L211.8 148.1 L212.2 148.1 L212.3 151.2 L213.3 151.6 L214.1 153.2 L214.3 148.5 L214.5 153.2 L215.2 151.7 L215.8 147.0 L215.9 148.8 L216.2 147.0 L216.6 150.6 L217.3 144.8 L217.8 150.0 L218.0 148.1 L218.2 150.0 L219.1 141.2 L219.8 140.0 L220.2 145.6 L220.2 140.0 L221.2 142.1 L222.2 145.7 L222.8 137.6 L222.8 142.9 L223.2 137.6 L223.7 147.6 L224.3 149.7 L224.4 143.3 L224.7 149.7 L225.6 149.6 L226.3 153.2 L226.4 142.2 L226.7 153.2 L227.4 148.3 L228.2 138.9 L228.3 138.0 L228.7 138.0 L229.1 145.5 L230.0 137.4 L230.8 141.0 L231.6 132.3 L231.7 135.2 L232.0 132.3 L232.6 139.5 L233.3 144.5 L233.4 136.8 L233.7 144.5 L234.1 140.2 L234.8 138.0 L235.2 137.8 L235.2 138.0 L236.1 141.2 L236.8 134.1 L237.1 137.5 L237.2 134.1 L237.8 140.6 L238.8 142.7 L238.8 137.5 L239.2 142.7 L239.7 140.1 L240.7 136.5 L240.8 136.0 L241.2 136.0 L241.5 140.5 L242.5 136.1 L243.2 137.4 L243.8 134.1 L244.2 134.1 L244.4 134.8 L245.3 139.2 L245.4 137.1 L245.7 139.2 L246.5 135.1 L247.2 139.6 L247.3 132.3 L247.7 132.3 L247.9 136.0 L248.7 141.4 L248.8 140.0 L249.2 140.0 L249.5 134.1 L250.6 140.1 L250.8 144.5 L251.2 144.5 L251.8 130.2 L252.3 130.0 L252.7 130.0 L252.7 138.0 L253.8 131.6 L254.3 123.6 L254.7 123.6 L254.7 133.9 L255.7 130.0 L255.8 134.0 L256.2 134.0 L256.6 134.1 L257.7 129.9 L257.8 140.1 L258.2 140.1 L258.5 136.5 L259.3 130.0 L259.5 131.1 L259.7 130.0 L260.7 134.7 L261.3 126.2 L261.4 128.9 L261.7 126.2 L262.2 132.7 L262.8 135.0 L263.2 129.6 L263.2 135.0 L264.3 135.7 L264.8 126.2 L265.2 126.2 L265.4 129.9 L266.3 134.5 L266.3 139.2 L266.7 139.2 L266.9 129.3 L268.0 136.2 L268.4 128.8 L268.8 128.8 L268.8 132.6 L269.8 137.7 L270.3 135.0 L270.6 132.6 L270.7 135.0 L271.5 137.3 L271.8 140.1 L272.2 140.1 L272.5 135.1 L273.3 138.4 L273.8 135.0 L274.0 134.4 L274.2 135.0 L275.0 137.7 L275.4 139.2 L275.8 139.2 L276.1 134.9 L276.8 132.3 L276.8 136.3 L277.2 132.3 L277.6 134.8 L278.7 136.4 L279.3 135.0 L279.7 131.1 L279.7 135.0 L280.7 133.4 L281.8 131.5 L282.4 128.8 L282.8 132.4 L282.8 128.8 L283.5 130.6 L284.3 132.1 L284.3 134.0 L284.7 134.0 L285.3 128.8 L285.8 130.0 L286.0 129.4 L286.2 130.0 L287.0 121.4 L287.8 128.0 L288.1 126.8 L288.2 128.0 L288.8 122.3 L289.4 116.3 L289.5 125.9 L289.8 116.3 L290.5 120.8 L291.3 126.0 L291.4 122.9 L291.7 126.0 L292.3 120.8 L292.9 118.5 L293.0 128.5 L293.3 118.5 L294.1 124.1 L294.8 130.0 L295.0 128.5 L295.2 130.0 L295.8 123.5 L296.4 132.2 L296.6 131.0 L296.8 132.2 L297.3 130.3 L298.1 135.3 L298.8 136.0 L298.9 133.6 L299.2 136.0 L299.7 137.0 L300.8 133.9 L301.6 139.2 L301.9 137.2 L302.0 139.2 L302.6 132.7 L303.3 132.0 L303.3 136.0 L303.7 132.0 L304.3 132.8 L305.1 136.3 L305.1 130.6 L305.5 130.6 L306.1 134.5 L306.8 136.0 L307.1 137.4 L307.2 136.0 L307.9 133.7 L308.6 138.0 L308.6 141.0 L309.0 141.0 L309.5 135.0 L310.3 137.9 L310.8 133.0 L310.9 136.0 L311.2 133.0 L312.0 136.6 L312.9 133.9 L313.3 135.9 L313.7 135.9 L313.8 134.7 L313.9 132.3 L314.3 132.3 L315.0 134.0 L315.8 135.6 L315.8 135.0 L316.2 135.0 L316.7 134.2 L317.7 135.9 L318.6 137.6 L318.7 131.8 L319.0 137.6 L319.6 133.7 L320.3 130.0 L320.5 125.1 L320.7 130.0 L321.4 133.2 L321.8 128.0 L322.2 128.0 L322.3 124.0 L323.2 126.9 L323.8 118.4 L324.2 118.4 L324.3 122.5 L325.0 124.4 L325.8 128.0 L326.0 120.6 L326.2 128.0 L326.8 125.4 L327.3 122.0 L327.5 123.6 L327.7 122.0 L328.6 126.6 L329.1 121.1 L329.5 121.1 L329.7 123.9 L330.3 128.8 L330.4 125.8 L330.7 128.8 L331.4 124.2 L332.3 124.0 L332.4 126.5 L332.7 124.0 L333.2 126.0 L334.4 129.6 L335.2 124.6 L335.2 127.4 L335.6 124.6 L336.1 130.5 L336.3 133.2 L336.7 133.2 L336.8 122.7 L337.5 129.7 L337.8 125.0 L338.2 125.0 L338.4 124.4 L339.3 129.0 L339.6 119.3 L340.0 119.3 L340.3 121.6 L340.8 130.6 L341.2 125.3 L341.2 130.6 L342.0 119.9 L342.3 120.0 L342.7 120.0 L343.2 125.4 L344.0 120.4 L344.0 115.8 L344.4 115.8 L344.9 123.3 L345.3 127.1 L345.7 117.7 L345.7 127.1 L346.4 122.3 L347.1 117.7 L347.3 116.0 L347.7 116.0 L347.8 123.5 L348.6 117.0 L349.3 119.9 L350.0 115.4 L350.1 113.2 L350.5 113.2 L350.9 119.8 L351.3 121.8 L351.5 115.8 L351.7 121.8 L352.4 118.2 L353.0 114.5 L353.3 115.0 L353.7 115.0 L353.9 119.5 L355.0 114.6 L355.3 111.4 L355.7 120.7 L355.7 111.4 L356.4 116.5 L356.8 121.0 L357.2 121.0 L357.2 122.6 L357.9 114.9 L358.7 119.5 L358.8 126.2 L359.2 126.2 L359.5 115.6 L360.3 121.4 L360.6 107.9 L361.0 107.9 L361.1 115.2 L362.1 119.3 L362.3 120.0 L362.7 120.0 L362.8 112.5 L363.9 116.4 L364.3 112.0 L364.5 113.8 L364.7 112.0 L365.2 118.0 L365.8 116.0 L365.9 113.4 L366.2 116.0 L366.9 117.4 L367.6 115.9 L367.6 112.3 L368.0 112.3 L368.5 117.8 L369.3 121.0 L369.6 114.6 L369.7 121.0 L370.3 117.0 L371.2 111.1 L371.3 115.0 L371.7 115.0 L371.9 116.4 L373.0 110.0 L373.7 103.6 L373.8 121.0 L374.1 103.6 L374.8 115.0 L374.8 113.7 L375.2 115.0 L375.5 128.0 L375.5 119.2 L375.9 128.0 L376.6 113.3 L377.3 118.0 L377.5 121.6 L377.7 118.0 L378.3 118.8 L379.1 121.2 L379.8 114.9 L380.0 117.5 L380.2 114.9 L380.7 121.0 L381.3 124.5 L381.6 118.3 L381.7 124.5 L382.5 121.3 L383.2 117.7 L383.3 118.0 L383.7 118.0 L383.8 121.1 L384.9 116.8 L385.3 114.0 L385.6 119.0 L385.7 114.0 L386.7 117.0 L386.9 113.5 L387.3 113.5 L387.8 119.7 L388.6 117.5 L388.8 123.6 L389.2 123.6 L389.7 120.7 L390.4 116.0 L390.5 118.1 L390.8 116.0 L391.3 124.5 L392.0 121.0 L392.3 122.0 L392.7 122.0 L392.7 126.9 L393.7 120.1 L393.9 130.6 L394.3 130.6 L394.3 127.0 L395.3 122.0 L395.8 118.0 L396.0 126.9 L396.2 118.0 L397.1 121.1 L397.8 120.0 L398.0 125.9 L398.2 120.0 L399.1 122.0 L400.2 126.1 L400.9 120.9 L400.9 129.7 L401.3 129.7 L401.6 125.0 L402.2 120.6 L403.3 118.0 L403.4 126.4 L403.7 118.0 L404.5 118.4 L405.4 121.8 L405.8 125.0 L406.2 125.0 L406.5 117.0 L407.4 120.5 L407.9 112.3 L408.3 112.3 L408.5 116.5 L409.5 121.5 L410.2 116.4 L410.3 125.3 L410.7 125.3 L411.1 119.3 L411.9 114.6 L412.8 119.5 L413.1 109.1 L413.4 114.0 L413.5 109.1 L414.3 118.3 L415.3 113.6 L415.3 121.0 L415.7 121.0 L416.1 117.0 L417.1 113.2 L417.9 118.3 L418.4 109.7 L418.7 114.3 L418.8 109.7 L419.4 120.4 L420.1 115.7 L420.1 124.5 L420.5 124.5 L421.1 118.6 L421.8 110.0 L422.2 110.0 L422.3 114.8 L423.4 118.6 L423.6 122.7 L424.0 122.7 L424.3 115.5 L425.3 113.0 L425.4 119.3 L425.7 113.0 L426.3 116.9 L426.8 123.6 L427.1 119.2 L427.2 123.6 L428.3 115.9 L428.9 115.8 L429.3 115.8 L429.4 121.2 L430.1 116.0 L430.1 123.6 L430.5 123.6 L430.9 119.1 L431.8 111.6 L432.3 113.0 L432.7 113.0 L432.9 118.7 L433.7 110.8 L434.8 117.9 L435.3 106.5 L435.6 110.8 L435.7 106.5 L436.3 119.1 L436.8 124.5 L437.0 111.0 L437.2 124.5 L438.1 118.1 L439.2 115.7 L440.3 118.5 L440.6 117.5 L441.0 117.5 L441.0 110.7 L441.9 116.1 L442.3 106.2 L442.7 106.2 L442.8 109.9 L443.9 114.7 L444.1 115.0 L444.5 115.0 L444.8 111.3 L445.9 116.2 L446.6 112.9 L447.3 116.7 L447.6 119.2 L448.0 119.2 L448.2 112.4 L448.9 116.8 L449.3 109.1 L449.6 114.8 L449.7 109.1 L450.5 120.2 L451.1 115.8 L451.5 115.8 L451.6 116.9 L452.2 123.2 L452.8 128.0 L452.9 116.9 L453.2 128.0 L453.7 128.9 L454.3 120.0 L454.6 122.5 L454.7 120.0 L455.4 129.8 L456.0 134.1 L456.4 134.1 L456.5 124.0 L457.2 119.3 L457.2 130.4 L457.6 119.3 L458.1 123.3 L459.0 129.7 L459.1 127.3 L459.4 129.7 L460.2 121.1 L460.8 118.0 L460.9 125.1 L461.2 118.0 L461.9 116.2 L462.5 126.2 L462.9 126.2 L463.0 119.3 L463.8 111.0 L464.4 118.9 L465.1 105.6 L465.5 105.6 L465.5 113.9 L466.4 115.0 L466.8 118.3 L467.2 118.3 L467.5 110.7 L468.5 114.6 L469.3 106.0 L469.4 109.1 L469.7 106.0 L470.1 113.2 L471.2 106.0 L471.3 109.6 L471.6 106.0 L472.1 117.5 L472.2 113.0 L472.5 117.5 L473.0 106.2 L473.9 108.7 L474.3 105.3 L474.6 100.6 L474.7 105.3 L475.5 108.7 L476.6 101.4 L477.3 94.2 L477.7 94.2 L477.8 106.7 L478.4 100.5 L478.8 113.1 L479.2 113.1 L479.3 107.1 L480.1 101.0 L480.8 102.1 L481.2 102.1 L481.2 111.9 L482.2 106.8 L482.6 107.1 L483.0 107.1 L483.1 111.9 L484.3 108.6 L484.3 118.3 L484.7 118.3 L485.0 113.0 L485.7 109.0 L486.1 104.7 L486.5 104.7 L486.8 117.5 L487.6 112.1 L487.8 110.6 L488.2 110.6 L488.7 117.5 L489.6 110.7 L489.6 122.7 L490.0 122.7 L490.3 121.5 L491.3 113.0 L491.4 117.5 L491.7 113.0 L492.2 127.2 L492.9 119.2 L493.9 124.8 L494.0 133.2 L494.4 133.2 L494.8 115.8 L494.9 122.0 L495.2 115.8 L495.5 127.6 L496.3 125.0 L496.6 119.6 L496.7 125.0 L497.4 126.9 L498.2 118.6 L498.4 132.4 L498.8 132.4 L498.9 125.6 L500.0 112.6 L500.3 115.0 L500.7 115.0 L501.1 125.5 L501.9 105.6 L502.3 112.5 L502.3 105.6 L502.7 124.5 L503.1 124.5 L503.3 119.5 L503.9 112.7 L504.6 119.3 L504.8 112.0 L505.2 112.0 L505.7 114.5 L506.4 114.0 L507.1 119.2 L507.3 108.4 L507.5 119.2 L508.0 114.6 L508.9 103.0 L509.2 108.1 L509.3 103.0 L509.9 116.5 L510.5 108.7 L510.8 115.0 L511.2 115.0 L511.7 116.7 L512.4 121.0 L512.4 111.6 L512.8 121.0 L513.6 116.8 L514.1 110.6 L514.3 114.3 L514.5 110.6 L515.5 119.5 L515.8 120.0 L516.2 120.0 L516.5 114.4 L517.1 119.9 L517.6 123.6 L518.0 123.6 L518.2 116.3 L519.1 121.5 L519.8 112.0 L520.0 116.5 L520.2 112.0 L520.9 121.1 L521.7 116.8 L522.0 127.1 L522.4 127.1 L522.8 120.7 L523.5 120.4 L524.6 109.7 L524.6 129.0 L525.0 109.7 L525.4 116.6 L526.0 135.9 L526.1 125.0 L526.4 135.9 L526.9 120.0 L527.6 129.8 L527.8 118.0 L528.2 118.0 L528.7 123.1 L529.9 122.0 L529.9 126.2 L530.3 126.2 L530.8 115.8 L531.5 120.5 L531.8 112.0 L532.2 112.0 L532.3 113.3 L533.3 120.6 L534.2 113.8 L534.3 109.1 L534.7 109.1 L535.0 120.5 L535.1 126.2 L535.5 126.2 L535.9 115.7 L537.1 118.9 L537.3 115.0 L537.7 115.0 L538.2 117.7 L539.3 124.0 L540.0 118.9 L540.4 114.9 L540.8 114.9 L541.0 123.9 L541.6 128.0 L542.0 128.0 L542.0 119.5 L543.2 127.9 L543.3 118.0 L543.7 118.0 L544.1 123.1 L545.1 134.1 L545.2 123.3 L545.5 134.1 L546.1 111.5 L546.8 118.0 L547.0 126.2 L547.2 118.0 L547.9 114.0 L548.6 101.2 L548.9 121.5 L549.0 101.2 L550.0 106.3 L550.3 117.5 L550.7 117.5 L551.2 112.6 L551.9 104.6 L552.3 105.3 L552.7 105.3 L553.1 110.7 L554.2 101.6 L555.0 106.6 L555.6 95.1 L555.9 101.2 L556.0 95.1 L556.7 109.6 L557.3 110.0 L557.7 110.0 L557.8 102.6 L558.5 111.5 L559.1 117.5 L559.4 102.8 L559.5 117.5 L559.9 94.2 L560.1 112.1 L560.3 94.2 L560.9 101.4 L561.5 110.1 L561.8 108.0 L562.2 108.0 L562.6 100.1 L563.7 107.7 L564.3 110.0 L564.7 110.0 L564.7 111.5 L565.6 117.7 L565.8 110.0 L566.2 110.0 L566.3 114.5 L567.1 118.1 L567.8 122.7 L568.2 122.7 L568.3 107.4 L569.0 114.2 L569.8 108.0 L569.9 105.6 L570.2 108.0 L570.6 116.2 L571.2 108.2 L571.3 100.3 L571.7 100.3 L571.9 114.9 L572.8 106.7 L573.1 121.0 L573.5 121.0 L573.7 113.5 L574.6 108.4 L574.8 107.0 L575.2 107.0 L575.3 113.6 L576.3 107.5 L576.6 103.8 L577.0 103.8 L577.2 113.6 L578.3 119.2 L578.4 107.5 L578.7 119.2 L579.0 114.4 L579.8 108.0 L579.8 109.9 L580.2 108.0 L580.9 115.1 L581.8 109.1 L581.8 103.8 L582.2 103.8 L582.9 115.5 L583.6 120.1 L583.7 107.6 L584.0 120.1 L584.7 116.1 L585.8 110.0 L585.8 113.1 L586.2 110.0 L586.8 117.0 L587.5 113.4 L588.6 118.4 L588.8 111.7 L589.2 111.7 L589.4 115.3 L590.4 118.4 L590.6 122.7 L591.0 122.7 L591.1 113.5 L592.3 119.3 L592.8 110.0 L593.2 114.2 L593.2 110.0 L594.0 117.3 L595.1 112.9 L595.8 117.5 L596.1 115.7 L596.2 117.5 L596.8 113.2 L597.6 110.8 L597.6 119.6 L598.0 110.8 L598.7 115.1 L599.3 117.0 L599.7 117.0 L599.8 120.4 L600.5 117.1 L601.1 127.1 L601.3 122.6 L601.5 127.1 L602.1 114.3 L602.8 110.6 L603.0 122.0 L603.2 110.6 L604.0 116.8 L604.6 115.0 L604.7 119.1 L605.0 115.0 L605.5 112.8 L606.3 121.0 L606.3 117.3 L606.7 121.0 L607.3 109.6 L608.0 116.8 L608.3 110.0 L608.7 110.0 L608.9 110.3 L609.6 114.4 L609.8 105.0 L610.2 105.0 L610.4 108.3 L611.3 111.0 L611.6 114.0 L612.0 114.0 L612.4 106.0 L613.3 110.0 L613.4 102.1 L613.8 102.1 L614.3 106.1 L614.9 109.4 L615.3 112.0 L615.7 112.0 L616.0 106.3 L617.0 108.7 L618.1 101.5 L618.6 114.0 L618.8 106.6 L619.0 114.0 L619.5 94.2 L619.9 94.2 L620.0 100.2 L621.2 109.1 L621.3 110.0 L621.7 110.0 L621.9 103.3 L622.7 110.6 L623.0 101.8 L623.4 101.8 L623.6 107.2 L623.9 117.5 L624.3 117.5 L624.6 114.6 L625.4 109.0 L626.5 117.9 L626.8 122.1 L627.2 122.1 L627.4 108.0 L627.4 113.0 L627.8 108.0 L628.5 118.2 L629.2 111.1 L629.8 115.0 L630.1 111.7 L630.2 115.0 L631.2 105.9 L632.2 108.8 L632.7 99.9 L633.1 99.9 L633.2 107.6 L634.0 116.3 L634.4 100.3 L634.8 100.3 L635.0 107.6 L635.2 121.0 L635.6 121.0 L635.8 114.4 L636.8 105.8 L637.4 120.9 L637.8 115.7 L637.8 120.9 L638.6 108.9 L639.5 116.4 L639.8 105.0 L640.2 105.0 L640.6 106.8 L641.4 119.2 L641.4 114.2 L641.8 119.2 L642.3 107.6 L643.0 114.6 L643.2 101.8 L643.6 101.8 L643.8 106.4 L644.7 114.1 L645.4 107.4 L646.6 112.0 L646.6 118.3 L647.0 118.3 L647.5 104.0 L648.1 112.6 L648.9 106.1 L649.6 109.9 L650.1 97.7 L650.5 97.7 L650.5 103.2 L651.3 108.2 L651.9 115.7 L652.0 103.7 L652.3 115.7 L652.9 110.7 L653.7 107.6 L654.7 117.0 L655.4 103.8 L655.8 103.8 L655.8 109.0 L656.9 117.0 L657.3 124.4 L657.6 110.4 L657.7 124.4 L658.8 119.2 L659.8 106.0 L659.8 110.6 L660.2 106.0 L660.8 116.0 L661.7 101.9 L662.3 115.0 L662.7 115.0 L662.8 108.2 L663.7 104.8 L664.3 96.4 L664.6 111.1 L664.7 96.4 L665.3 104.1 L666.3 113.0 L666.3 120.0 L666.7 120.0 L666.9 102.4 L667.9 117.3 L668.8 102.0 L668.9 109.5 L669.2 102.0 L670.1 116.5 L670.8 125.6 L671.1 108.9 L671.2 125.6 L671.8 117.8 L672.5 110.0" fill="none" stroke="#e83c00" stroke-width="4.4" stroke-linejoin="round" stroke-linecap="round"/>

<path d="M54 271 H80 M55.5 271 V275.5 M673.5 60 V271" fill="none" stroke="#000" stroke-width="2.8"/>
<text class="tt" x="365.4" y="316.3" text-anchor="middle" textLength="75.5" lengthAdjust="spacingAndGlyphs">Time (ns)</text>
<text class="tt" style="font-size:18.6px" transform="translate(17.2,137.7) rotate(-90)" text-anchor="middle" textLength="84.5" lengthAdjust="spacingAndGlyphs">RMSD (<tspan font-weight="normal">Å</tspan>)</text>
<line x1="94.2" y1="211.2" x2="124" y2="211.2" stroke="#4eea0c" stroke-width="4.6" stroke-linecap="round"/>
<text class="lg" x="127.3" y="216">MAO-B Apo Protein</text>
<line x1="283" y1="211.2" x2="313.5" y2="211.2" stroke="#0829cc" stroke-width="4.6" stroke-linecap="round"/>
<text class="lg" x="316.3" y="216">B10-MAO-B complex</text>
<line x1="477.5" y1="211.2" x2="508" y2="211.2" stroke="#e83c00" stroke-width="4.6" stroke-linecap="round"/>
<text class="lg" x="510.4" y="216">B15-MAO-B complex</text>
</svg>
</body></html>
